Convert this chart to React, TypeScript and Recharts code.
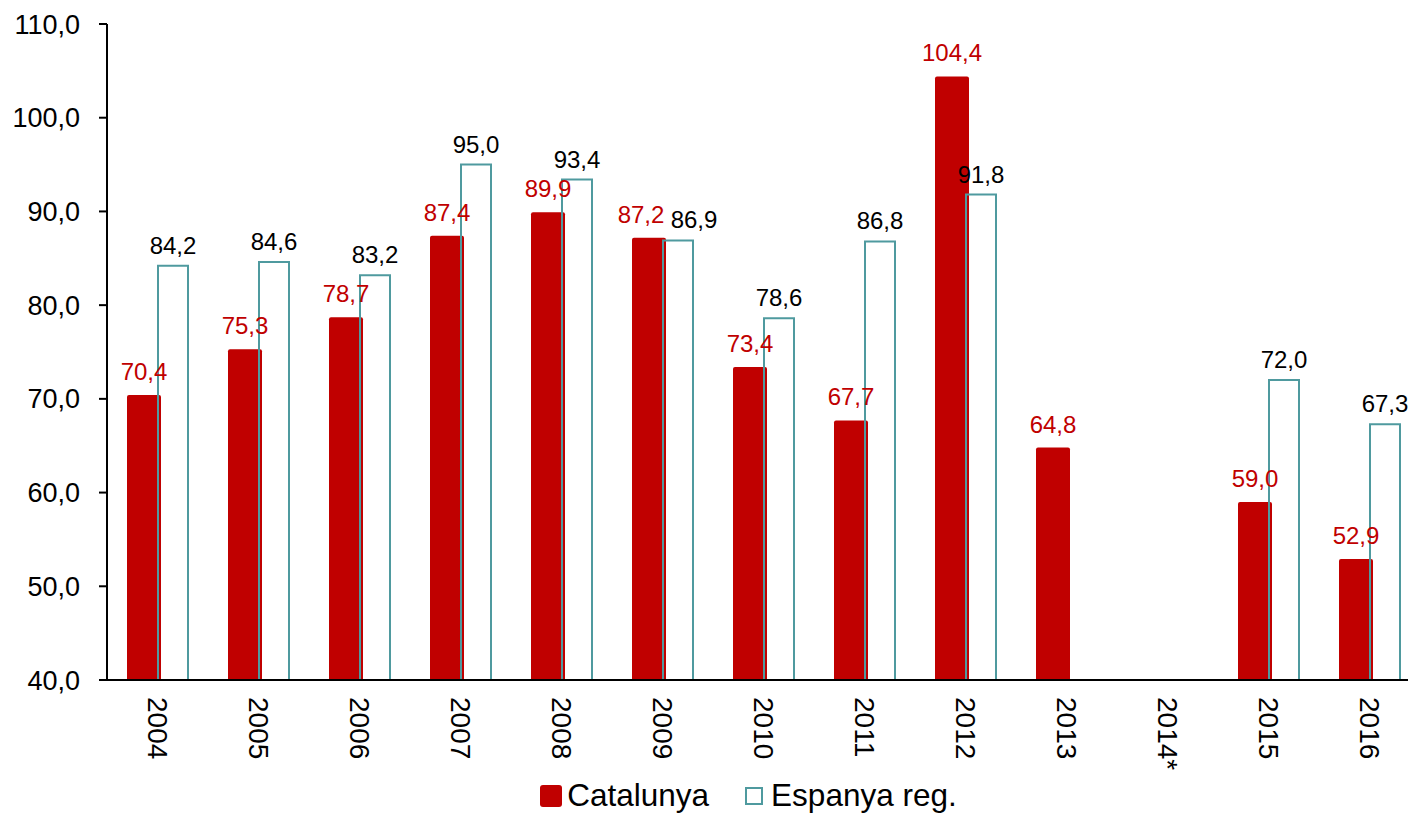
import { BarChart, Bar, XAxis, YAxis, LabelList, Legend } from 'recharts'

const YEARS = ['2004', '2005', '2006', '2007', '2008', '2009', '2010', '2011', '2012', '2013', '2014*', '2015', '2016']
const CATALUNYA = [70.4, 75.3, 78.7, 87.4, 89.9, 87.2, 73.4, 67.7, 104.4, 64.8, null, 59.0, 52.9]
const ESPANYA = [84.2, 84.6, 83.2, 95.0, 93.4, 86.9, 78.6, 86.8, 91.8, null, null, 72.0, 67.3]
const Y_TICKS = [40, 50, 60, 70, 80, 90, 100, 110]

const RED = '#c00000'
const TEAL = '#4f9a9f'
const FONT = '"Liberation Sans", Arial, sans-serif'

const data = YEARS.map((year, i) => ({ year, cat: CATALUNYA[i], esp: ESPANYA[i] }))
const boundaries = YEARS.map((_, i) => i).concat(YEARS.length)

const fmt = (v: any) => (v == null ? '' : Number(v).toFixed(1).replace('.', ','))

// labels of the two bars collide when the values are nearly equal -> push them apart
const close = (i: number) => CATALUNYA[i] != null && ESPANYA[i] != null && Math.abs((CATALUNYA[i] as number) - (ESPANYA[i] as number)) < 2

const makeLabel = (color: string, shift: number, offset: number) => (props: any) => {
  const { x, y, width, value, index } = props
  if (value == null) return null
  const dx = close(index) ? shift : 0
  return (
    <text x={x + width / 2 + dx} y={y - offset} textAnchor="middle" fill={color} fontSize={24} fontFamily={FONT}>
      {fmt(value)}
    </text>
  )
}

const XTick = ({ x, y, payload }: any) => (
  <text x={x} y={y} transform={`rotate(90 ${x} ${y})`} textAnchor="start" dominantBaseline="central"
    fontSize={28} fontFamily={FONT} fill="#000">
    {payload.value}
  </text>
)

const LegendBox = () => (
  <div style={{ display: 'flex', justifyContent: 'center', alignItems: 'center', paddingLeft: 77, fontFamily: FONT, fontSize: 31.5, color: '#000' }}>
    <span style={{ width: 22, height: 22, background: RED, borderRadius: 3, display: 'inline-block', marginRight: 5 }} />
    <span>Catalunya</span>
    <span style={{ width: 14, height: 14, border: `2px solid ${TEAL}`, display: 'inline-block', marginLeft: 36, marginRight: 8 }} />
    <span>Espanya reg.</span>
  </div>
)

export default function App() {
  return (
    <div style={{ position: 'absolute', left: 0, top: 0, width: 1408, height: 817, overflow: 'hidden', background: '#fff' }}>
      <BarChart width={1420} height={817} data={data} margin={{ top: 24, right: 0, bottom: 0, left: 0 }}
        barGap={-3}>
        <XAxis xAxisId="grid" type="number" domain={[0, YEARS.length]} ticks={boundaries} tick={false}
          tickSize={8} axisLine={false} height={0} tickLine={{ stroke: '#000', strokeWidth: 2 }} allowDataOverflow />
        <XAxis xAxisId="cat" dataKey="year" height={97} tickLine={false} tickSize={0} tickMargin={17}
          axisLine={{ stroke: '#000', strokeWidth: 2 }} tick={<XTick />} interval={0} />
        <YAxis domain={[40, 110]} ticks={Y_TICKS} width={107} tickFormatter={fmt} allowDataOverflow
          axisLine={{ stroke: '#000', strokeWidth: 2 }} tickLine={{ stroke: '#000', strokeWidth: 2 }}
          tickSize={8} tickMargin={19} tick={{ fill: '#000', fontSize: 27, fontFamily: FONT }} />
        <Legend verticalAlign="bottom" height={40} content={<LegendBox />} />
        <Bar xAxisId="cat" dataKey="cat" name="Catalunya" fill={RED} barSize={34} radius={[2, 2, 0, 0]} isAnimationActive={false}>
          <LabelList dataKey="cat" content={makeLabel(RED, -8, 15)} />
        </Bar>
        <Bar xAxisId="cat" dataKey="esp" name="Espanya reg." fill="none" stroke={TEAL} strokeWidth={2} barSize={30} isAnimationActive={false}>
          <LabelList dataKey="esp" content={makeLabel('#000', 16, 12)} />
        </Bar>
      </BarChart>
    </div>
  )
}
